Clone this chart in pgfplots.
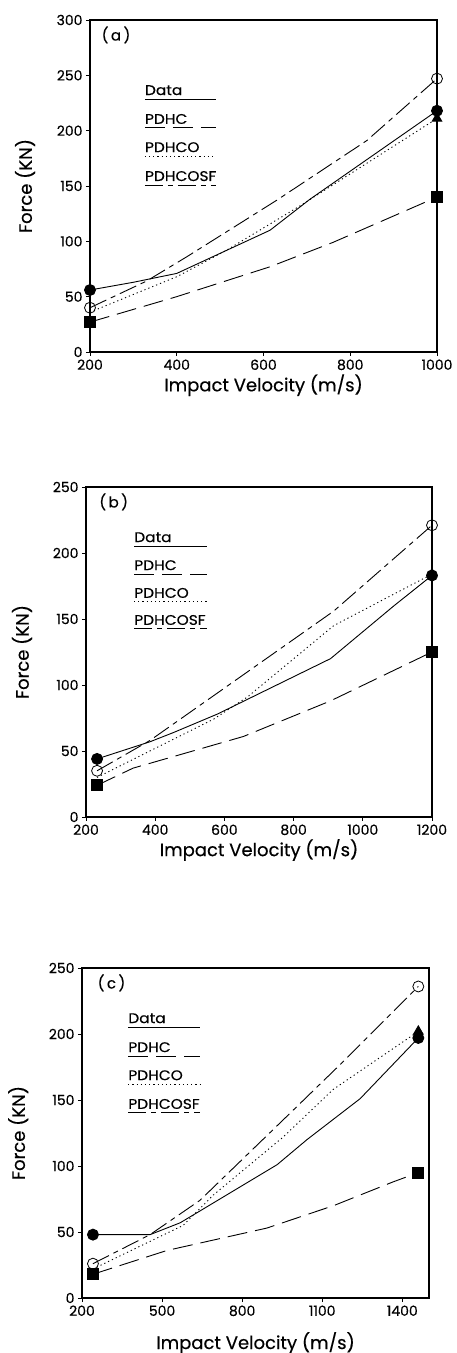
\documentclass[border=0pt]{standalone}
\usepackage{fontspec}
\setmainfont{Poppins}[FakeBold=0.4]
\usepackage{pgfplots}
\pgfplotsset{compat=1.18}

\pgfplotsset{
  panel/.style={
    scale only axis, anchor=south west, clip=false,
    axis line style={line width=1.5pt},
    tick pos=left, tick align=outside, major tick length=4pt,
    tick style={line width=0.8pt, black},
    /pgf/number format/assume math mode=true,
    /pgf/number format/1000 sep={},
    ticklabel style={font=\fontsize{14}{16}\selectfont},
    label style={font=\fontsize{18}{21}\selectfont},
    xlabel={Impact Velocity (m/s)},
    ylabel={Force (KN)},
  },
}
\tikzset{
  lnData/.style={black, line width=0.9pt, solid},
  lnPDHC/.style={black, line width=0.9pt, dash pattern=on 20pt off 8pt},
  lnPDHCO/.style={black, line width=0.9pt, dash pattern=on 1.2pt off 3pt},
  lnPDHCOSF/.style={black, line width=0.9pt, dash pattern=on 18pt off 5pt on 5pt off 5pt},
  mkData/.style={mark=*, mark size=5.5pt, mark options={solid, fill=black}},
  mkPDHC/.style={mark=square*, mark size=5.5pt, mark options={solid, fill=black}},
  mkPDHCO/.style={mark=triangle*, mark size=5.5pt, mark options={solid, fill=black}},
  mkPDHCOSF/.style={mark=o, mark size=5.5pt, mark options={solid, fill=white, line width=0.8pt}},
  legtext/.style={anchor=base west, inner sep=0pt, yshift=4pt, xscale=1.1,
                  font=\fontsize{14}{16}\selectfont},
}

% one legend entry: #1 name, #2 line style, #3 x start, #4 x end, #5 rel y
\newcommand{\legentry}[5]{%
  \node[legtext] at (rel axis cs:#3,#5) {#1};
  \draw[#2] (rel axis cs:#3,#5) -- (rel axis cs:#4,#5);
}

\begin{document}
\begin{tikzpicture}
\path[use as bounding box] (0,0) rectangle (456pt,1353pt);

% ---------- (a)
\begin{axis}[panel, at={(90pt,1001pt)}, width=347pt, height=332pt,
  xmin=200, xmax=1000, ymin=0, ymax=300,
  xtick={200,400,...,1000}, ytick={0,50,...,300},
  xlabel style={at={(axis description cs:0.5,-0.10)}, anchor=center},
  ylabel style={at={(axis description cs:-0.187,0.5)}, anchor=center}]
\addplot[lnPDHC, mkPDHC, mark indices={1,5}] coordinates {(200,27) (400,50) (615,77) (760,99) (1000,140)};
\addplot[lnPDHCO, mkPDHCO, mark indices={5}] coordinates {(200,36) (400,68) (515,92) (684,132) (1000,211)};
\addplot[lnData, mkData, mark indices={1,6}] coordinates {(200,56) (300,63) (400,71) (615,110) (707,138) (1000,218)};
\addplot[lnPDHCOSF, mkPDHCOSF, mark indices={1,6}] coordinates {(200,40) (330,64) (423,86) (630,137) (838,191) (1000,247)};
\node[anchor=center, font=\fontsize{15}{17}\selectfont] at (rel axis cs:0.075,0.955) {(\,a\,)};
\legentry{Data}{lnData}{0.158}{0.363}{0.762}
\legentry{PDHC}{lnPDHC}{0.158}{0.363}{0.675}
\legentry{PDHCO}{lnPDHCO}{0.158}{0.363}{0.590}
\legentry{PDHCOSF}{lnPDHCOSF}{0.158}{0.363}{0.503}
\end{axis}

% ---------- (b)
\begin{axis}[panel, at={(86pt,536pt)}, width=346pt, height=330pt,
  xmin=200, xmax=1200, ymin=0, ymax=250,
  xtick={200,400,...,1200}, ytick={0,50,...,250},
  xlabel style={at={(axis description cs:0.5,-0.10)}, anchor=center},
  ylabel style={at={(axis description cs:-0.185,0.5)}, anchor=center}]
\addplot[lnPDHC, mkPDHC, mark indices={1,5}] coordinates {(232,24) (336,37) (655,61) (907,88) (1200,125)};
\addplot[lnPDHCO, mkPDHCO, mark indices={5}] coordinates {(232,30) (568,74) (667,91) (916,145) (1200,184)};
\addplot[lnData, mkData, mark indices={1,7}] coordinates {(232,44) (385,57) (453,64) (580,78) (907,120) (1090,160) (1200,183)};
\addplot[lnPDHCOSF, mkPDHCOSF, mark indices={1,5}] coordinates {(232,35) (385,58) (667,110) (916,156) (1200,221)};
\node[anchor=center, font=\fontsize{15}{17}\selectfont] at (rel axis cs:0.08,0.955) {(\,b\,)};
\legentry{Data}{lnData}{0.139}{0.350}{0.821}
\legentry{PDHC}{lnPDHC}{0.139}{0.350}{0.736}
\legentry{PDHCO}{lnPDHCO}{0.139}{0.350}{0.652}
\legentry{PDHCOSF}{lnPDHCOSF}{0.139}{0.350}{0.570}
\end{axis}

% ---------- (c)
\begin{axis}[panel, at={(82pt,55pt)}, width=347pt, height=330pt,
  xmin=200, xmax=1500, ymin=0, ymax=250,
  xtick={200,500,800,1100,1400}, ytick={0,50,...,250},
  xlabel style={at={(axis description cs:0.5,-0.136)}, anchor=center},
  ylabel style={at={(axis description cs:-0.184,0.5)}, anchor=center}]
\addplot[lnPDHC, mkPDHC, mark indices={1,6}] coordinates {(241,18) (518,36) (893,53) (1143,70) (1366,88) (1460,95)};
\addplot[lnPDHCO, mkPDHCO, mark indices={6}] coordinates {(241,22) (579,55) (692,78) (954,122) (1141,158) (1460,202)};
\addplot[lnData, mkData, mark indices={1,8}] coordinates {(241,48) (455,48) (568,57) (692,72) (931,101) (1043,120) (1242,151) (1460,197)};
\addplot[lnPDHCOSF, mkPDHCOSF, mark indices={1,6}] coordinates {(241,26) (455,48) (642,74) (954,135) (1168,177) (1460,236)};
\node[anchor=center, font=\fontsize{15}{17}\selectfont] at (rel axis cs:0.085,0.955) {(\,c\,)};
\legentry{Data}{lnData}{0.133}{0.340}{0.821}
\legentry{PDHC}{lnPDHC}{0.133}{0.340}{0.733}
\legentry{PDHCO}{lnPDHCO}{0.133}{0.340}{0.648}
\legentry{PDHCOSF}{lnPDHCOSF}{0.133}{0.340}{0.561}
\end{axis}
\end{tikzpicture}
\end{document}
